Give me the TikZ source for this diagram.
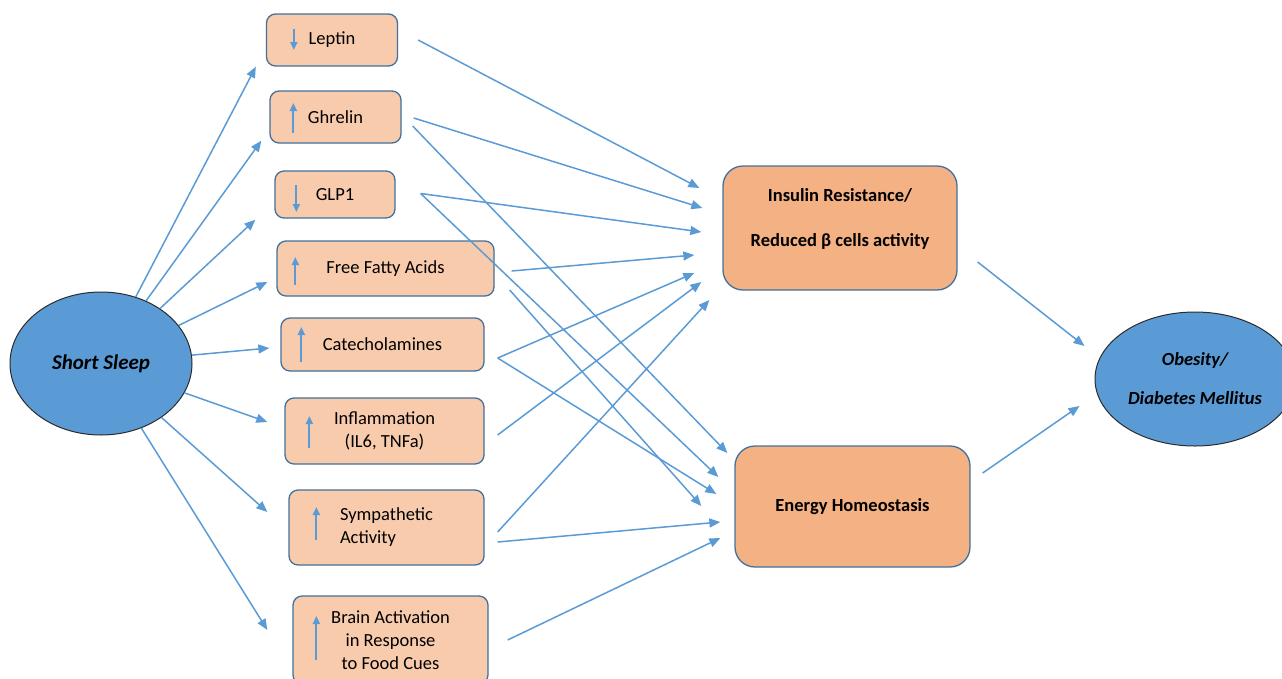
\documentclass[tikz,border=0pt]{standalone}
\usepackage{fontspec}
\setmainfont{Carlito}
\usetikzlibrary{arrows.meta, positioning, shapes.geometric}

\definecolor{boxfill}{HTML}{F8CBAD}
\definecolor{bigfill}{HTML}{F4B183}
\definecolor{boxline}{HTML}{41719C}
\definecolor{linkblue}{HTML}{5B9BD5}
\definecolor{ovalline}{HTML}{2B2B2B}

\begin{document}
\begin{tikzpicture}[
                x=1pt, y=-1pt,
                factor/.style={draw=boxline, line width=1.3pt, fill=boxfill, rounded corners=9pt, align=center, font=\fontsize{18.5}{23}\selectfont},
                outcome/.style={draw=boxline, line width=1.3pt, fill=bigfill, rounded corners=20pt, align=center, font=\fontsize{18.5}{45}\selectfont\bfseries},
                oval/.style={draw=ovalline, line width=1pt, fill=linkblue, ellipse, align=center, font=\bfseries\itshape},
                link/.style={linkblue, line width=1.5pt, -{Triangle[length=11pt, width=9pt]}},
                trend/.style={linkblue, line width=1.8pt, -{Triangle[length=8pt, width=7pt]}}
            ]
                \useasboundingbox (0,0) rectangle (1282,678);

                \node[oval, minimum width=182pt, minimum height=143pt, font=\fontsize{21}{24}\selectfont\bfseries\itshape] (sleep) at (101,363.5) {Short Sleep};

                \node[factor, minimum width=131pt, minimum height=52pt] (lep) at (332,40) {Leptin};
                \node[factor, minimum width=131pt, minimum height=52pt] (gh) at (335.5,117) {Ghrelin};
                \node[factor, minimum width=120pt, minimum height=47pt] (glp) at (335,194.5) {GLP1};
                \node[factor, minimum width=217pt, minimum height=55pt] (ffa) at (385.5,268.5) {Free Fatty Acids};
                \node[factor, minimum width=203pt, minimum height=53pt] (cat) at (382.5,344.5) {Catecholamines};
                \node[factor, minimum width=199pt, minimum height=66pt] (inf) at (384.5,431) {Inflammation\\(IL6, TNFa)};
                \node[factor, minimum width=195pt, minimum height=75pt, align=left] (sym) at (386.5,527.5) {Sympathetic\\Activity};
                \node[factor, minimum width=195pt, minimum height=88pt] (brain) at (390.5,640) {Brain Activation\\in Response\\to Food Cues};

                \node[outcome, minimum width=234pt, minimum height=124pt, text depth=20pt] (ins) at (840,228) {Insulin Resistance/\\Reduced β cells activity};
                \node[outcome, minimum width=235pt, minimum height=121pt] (en) at (852.5,506.5) {Energy Homeostasis};

                \node[oval, minimum width=200pt, minimum height=134pt, font=\fontsize{18.5}{39}\selectfont\bfseries\itshape] (ob) at (1195,379) {Obesity/\\Diabetes Mellitus};

                % up / down marks inside the boxes
                \draw[trend] ([shift={(28,-11)}]lep.west) -- ([shift={(28,10)}]lep.west);
                \draw[trend] ([shift={(24,16)}]gh.west) -- ([shift={(24,-14)}]gh.west);
                \draw[trend] ([shift={(22,-9.5)}]glp.west) -- ([shift={(22,17.5)}]glp.west);
                \draw[trend] ([shift={(19,16.5)}]ffa.west) -- ([shift={(19,-11.5)}]ffa.west);
                \draw[trend] ([shift={(21,17.5)}]cat.west) -- ([shift={(21,-17.5)}]cat.west);
                \draw[trend] ([shift={(25,17)}]inf.west) -- ([shift={(25,-15)}]inf.west);
                \draw[trend] ([shift={(28,12.5)}]sym.west) -- ([shift={(28,-20.5)}]sym.west);
                \draw[trend] ([shift={(24,20)}]brain.west) -- ([shift={(24,-24)}]brain.west);

                % short sleep to factors
                \draw[link] (sleep) -- ([shift={(-10,0)}]lep.south west);
                \draw[link] (sleep) -- ([shift={(-8,-3)}]gh.south west);
                \draw[link] (sleep) -- ([shift={(-19,1)}]glp.south west);
                \draw[link] (sleep) -- ([shift={(-9,13.5)}]ffa.west);
                \draw[link] (sleep) -- ([shift={(-11,3.5)}]cat.west);
                \draw[link] (sleep) -- ([shift={(-17,-9)}]inf.west);
                \draw[link] (sleep) -- ([shift={(-21,-15.5)}]sym.west);
                \draw[link] (sleep) -- ([shift={(-25,-10)}]brain.west);

                % factors to insulin resistance
                \draw[link] ([shift={(20,0)}]lep.east) -- ([shift={(-23,-40)}]ins.west);
                \draw[link] ([shift={(12,1)}]gh.east) -- ([shift={(-20,-20)}]ins.west);
                \draw[link] ([shift={(25,-1)}]glp.east) -- ([shift={(-21,4)}]ins.west);
                \draw[link] ([shift={(17,2.5)}]ffa.east) -- ([shift={(-28,27)}]ins.west);
                \draw[link] ([shift={(13,13.5)}]cat.east) -- ([shift={(-28,45)}]ins.west);
                \draw[link] ([shift={(13,4)}]inf.east) -- ([shift={(-21,54)}]ins.west);
                \draw[link] ([shift={(13,4.5)}]sym.east) -- ([shift={(-13,72)}]ins.west);

                % factors to energy homeostasis
                \draw[link] ([shift={(11,9)}]gh.east) -- ([shift={(-7,-53.5)}]en.west);
                \draw[link] ([shift={(25,-1)}]glp.east) -- ([shift={(-16,-29.5)}]en.west);
                \draw[link] ([shift={(15,21.5)}]ffa.east) -- ([shift={(-33,-0.5)}]en.west);
                \draw[link] ([shift={(13,13.5)}]cat.east) -- ([shift={(-18,-12.5)}]en.west);
                \draw[link] ([shift={(13,14.5)}]sym.east) -- ([shift={(-14,15.5)}]en.west);
                \draw[link] ([shift={(19,0)}]brain.east) -- ([shift={(-14,31.5)}]en.west);

                % outcomes
                \draw[link] ([shift={(20,34)}]ins.east) -- ([shift={(-10,-33)}]ob.west);
                \draw[link] ([shift={(12,-33.5)}]en.east) -- ([shift={(-15,27)}]ob.west);
            \end{tikzpicture}
\end{document}
